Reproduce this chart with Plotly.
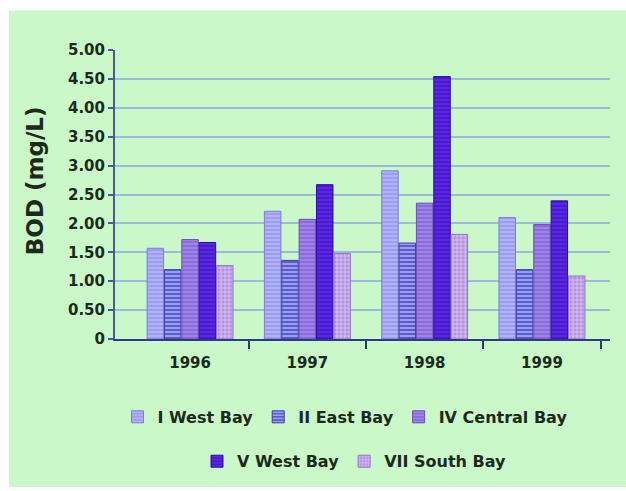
import plotly.graph_objects as go

# BOD readings per bay station, by year
years = ["1996", "1997", "1998", "1999"]
stations = ["I West Bay", "II East Bay", "IV Central Bay", "V West Bay", "VII South Bay"]
bod = {
    "I West Bay":     [1.57, 2.21, 2.91, 2.10],
    "II East Bay":    [1.20, 1.36, 1.66, 1.20],
    "IV Central Bay": [1.72, 2.07, 2.35, 1.98],
    "V West Bay":     [1.67, 2.67, 4.54, 2.39],
    "VII South Bay":  [1.27, 1.48, 1.81, 1.09],
}
y_ticks = [0, 0.5, 1, 1.5, 2, 2.5, 3, 3.5, 4, 4.5, 5]
y_tick_text = ["0", "0.50", "1.00", "1.50", "2.00", "2.50", "3.00", "3.50", "4.00", "4.50", "5.00"]

# fill colour, stripe colour, stripe shape, stripe solidity, edge colour
styles = {
    "I West Bay":     ("#9c9cf2", "#b8b8f8", "-", 0.4, "#7c7cd8"),
    "II East Bay":    ("#5c5cd2", "#a4a4f2", "-", 0.45, "#3c3ca8"),
    "IV Central Bay": ("#8a6cdc", "#a68ae8", "-", 0.4, "#6a4cbc"),
    "V West Bay":     ("#4a18d6", "#5a30dc", "-", 0.4, "#2c0ca0"),
    "VII South Bay":  ("#b490e0", "#e6d8f8", "+", 0.3, "#9474c8"),
}

TEXT = "#1c2a1c"
FONT = "DejaVu Sans"
GREEN = "#caf8c8"

x_pos = list(range(len(years)))

fig = go.Figure()
for i, name in enumerate(stations):
    fill, stripe, shape, solid, edge = styles[name]
    fig.add_trace(go.Bar(
        x=x_pos,
        y=bod[name],
        name=name,
        legend="legend" if i < 3 else "legend2",
        marker=dict(
            color=fill,
            line=dict(color=edge, width=1),
            pattern=dict(shape=shape, fgcolor=stripe, bgcolor=fill,
                         size=4, solidity=solid, fillmode="replace"),
        ),
    ))

W, H = 626, 491
L, R, T, B = 115, 16, 50, 148
pw, ph = W - L - R, H - T - B


def px_x(px):
    return (px - L) / pw


def px_y(py):
    return (H - B - py) / ph


legend_common = dict(
    orientation="h",
    xanchor="center",
    yanchor="middle",
    bgcolor="rgba(0,0,0,0)",
    font=dict(family=FONT, size=16, color=TEXT, weight="bold"),
    itemwidth=30,
    tracegroupgap=0,
)

fig.update_layout(
    width=W,
    height=H,
    margin=dict(l=L, r=R, t=T, b=B),
    paper_bgcolor="white",
    plot_bgcolor="rgba(0,0,0,0)",
    barmode="group",
    bargap=0.26,
    bargroupgap=0.05,
    font=dict(family=FONT, color=TEXT),
    legend=dict(x=px_x(345), y=px_y(422), **legend_common),
    legend2=dict(x=px_x(354), y=px_y(467), **legend_common),
    shapes=[dict(
        type="rect", xref="paper", yref="paper",
        x0=px_x(9), x1=px_x(W + 2), y0=px_y(H + 2), y1=px_y(10),
        fillcolor=GREEN, line=dict(width=0), layer="below",
    )],
    annotations=[dict(
        text="BOD (mg/L)",
        xref="paper", yref="paper",
        x=px_x(35), y=px_y(183),
        xanchor="center", yanchor="middle",
        textangle=-90, showarrow=False,
        font=dict(family=FONT, size=23, color=TEXT, weight="bold"),
    )],
    xaxis=dict(
        range=[-0.64, 3.58],
        tickmode="array",
        tickvals=x_pos,
        ticktext=years,
        ticks="outside",
        ticklen=9,
        tickcolor="rgba(0,0,0,0)",
        tickfont=dict(family=FONT, size=15, color=TEXT, weight="bold"),
        showline=True,
        linecolor="#2c3c8c",
        linewidth=2,
        showgrid=False,
        zeroline=False,
        minor=dict(
            tickmode="array",
            tickvals=[0.5, 1.5, 2.5, 3.5],
            ticks="outside",
            ticklen=8,
            tickwidth=1.5,
            tickcolor="#2c3c5c",
            showgrid=False,
        ),
    ),
    yaxis=dict(
        range=[0, 5],
        tickmode="array",
        tickvals=y_ticks,
        ticktext=y_tick_text,
        ticks="outside",
        ticklen=5,
        tickwidth=1.5,
        tickcolor="#4a5a9a",
        tickfont=dict(family=FONT, size=15, color=TEXT, weight="bold"),
        showline=True,
        linecolor="#4a5aa0",
        linewidth=2,
        showgrid=True,
        gridcolor="#a0b8da",
        gridwidth=1.5,
        zeroline=False,
    ),
)

fig.write_html("out.html")
